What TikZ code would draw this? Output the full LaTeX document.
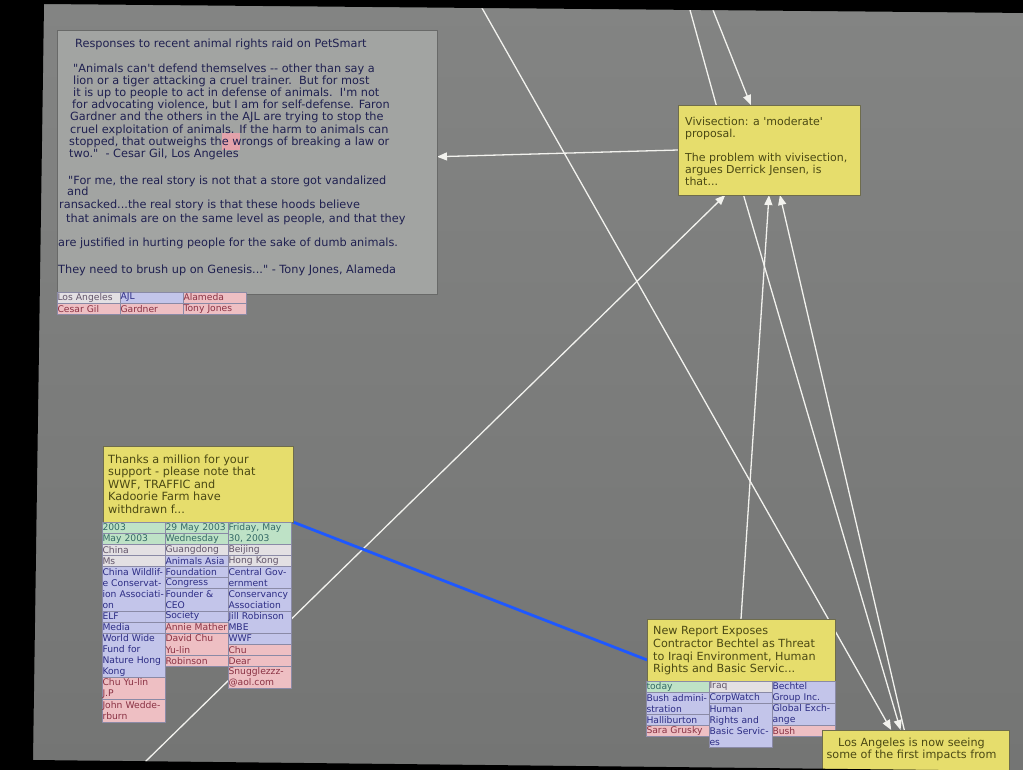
\documentclass[tikz,border=0pt]{standalone}
\usepackage{fontspec}
\setmainfont{DejaVu Sans}[Ligatures=TeXOff]
\usetikzlibrary{arrows.meta,calc,positioning}
\hyphenpenalty=10000
\exhyphenpenalty=10000

\definecolor{screentop}{HTML}{838483}
\definecolor{screenlow}{HTML}{747574}
\definecolor{panelgray}{HTML}{A2A4A2}
\definecolor{panelrule}{HTML}{686968}
\definecolor{panelink}{HTML}{1F2050}
\definecolor{notefill}{HTML}{E6DD6C}
\definecolor{noterule}{HTML}{6E6C4C}
\definecolor{noteink}{HTML}{4B4914}
\definecolor{caret}{HTML}{E3A2AA}
\definecolor{cellrule}{HTML}{8A8AA6}
\definecolor{fillg}{HTML}{BEE2C6}
\definecolor{inkg}{HTML}{356A66}
\definecolor{fillw}{HTML}{E3E0E3}
\definecolor{inkw}{HTML}{62556A}
\definecolor{fillb}{HTML}{C3C5EA}
\definecolor{inkb}{HTML}{2C2C84}
\definecolor{fillp}{HTML}{EEBFC3}
\definecolor{inkp}{HTML}{8A3244}
\definecolor{wire}{HTML}{F2F2EE}
\definecolor{hotblue}{HTML}{1E58FF}

\pgfdeclarelayer{bg}
\pgfdeclarelayer{edges}
\pgfsetlayers{bg,edges,main}

\tikzset{
  panel/.style={draw=panelrule, fill=panelgray, line width=.8pt, inner sep=0pt, outer sep=0pt, anchor=north west},
  note/.style={draw=noterule, fill=notefill, line width=.8pt, inner sep=0pt, outer sep=0pt, anchor=north west},
  blurb/.style={anchor=north west, inner sep=0pt, align=left, font=\fontsize{11}{12}\selectfont},
  cell/.style={draw=cellrule, line width=.5pt, fill=fill#1, text=ink#1, anchor=north west,
    inner xsep=.5pt, inner ysep=0pt, outer sep=0pt, text width=62pt, align=left,
    font=\fontsize{9.2}{11.1}\selectfont},
  link/.style={draw=wire, line width=1.3pt, -{Triangle[length=10pt,width=8pt]}},
  bluelink/.style={draw=hotblue, line width=2.8pt},
}

\newcommand\cellcol[3]{%
  \coordinate (#1-next) at (#2);
  \foreach \txt/\kind/\rows [count=\k] in {#3} {
    \node[cell=\kind, minimum height=\rows*11.1pt] (#1-\k) at (#1-next) {\txt};
    \coordinate (#1-next) at (#1-\k.south west);
  }}

\begin{document}
\begin{tikzpicture}[x=1pt, y=-1pt, line join=round, line cap=round]
  \useasboundingbox (0,0) rectangle (1023,769);
  \begin{pgfonlayer}{bg}
    \shade[top color=screentop, bottom color=screenlow] (0,0) rectangle (1023,769);
  \end{pgfonlayer}

  \node[panel, minimum width=380pt, minimum height=264pt] (resp) at (57,30) {};
  \fill[caret] (222,133) rectangle (240,150);
  \node[blurb, text=panelink, font=\fontsize{11.3}{12.15}\selectfont] (resp-text) at ($(resp.north west)+(1,8.4)$) {%
    \hspace*{17pt}Responses to recent animal rights raid on PetSmart\\[13pt]
    \hspace*{15pt}"Animals can't defend themselves -- other than say a\\
    \hspace*{15pt}lion or a tiger attacking a cruel trainer.\ \ But for most\\
    \hspace*{15pt}it is up to people to act in defense of animals.\ \ I'm not\\
    \hspace*{14pt}for advocating violence, but I am for self-defense. Faron\\
    \hspace*{12pt}Gardner and the others in the AJL are trying to stop the\\
    \hspace*{12pt}cruel exploitation of animals. If the harm to animals can\\
    \hspace*{11pt}stopped, that outweighs the wrongs of breaking a law or\\
    \hspace*{11pt}two."\ \ - Cesar Gil, Los Angeles\\[15pt]
    \hspace*{10pt}"For me, the real story is not that a store got vandalized\\[-1pt]
    \hspace*{9pt}and\\[1pt]
    \hspace*{1pt}ransacked...the real story is that these hoods believe\\[2pt]
    \hspace*{8pt}that animals are on the same level as people, and that they\\[11pt]
    are justified in hurting people for the sake of dumb animals.\\[15pt]
    They need to brush up on Genesis..." - Tony Jones, Alameda};
  \cellcol{resp-a}{$(resp.south west)+(0,-2)$}{Los Angeles/w/1, Cesar Gil/p/1}
  \cellcol{resp-b}{$(resp.south west)+(63,-2)$}{AJL/b/1, Gardner/p/1}
  \cellcol{resp-c}{$(resp.south west)+(126,-2)$}{Alameda/p/1, Tony Jones/p/1}

  \node[note, minimum width=182pt, minimum height=90pt] (vivi) at (678,105) {};
  \node[blurb, text=noteink] (vivi-text) at ($(vivi.north west)+(7,11.6)$) {%
    Vivisection: a 'moderate'\\ proposal.\\[12pt]
    The problem with vivisection,\\ argues Derrick Jensen, is\\ that...};

  \node[note, minimum width=190pt, minimum height=76pt] (thanks) at (103,446) {};
  \node[blurb, text=noteink, font=\fontsize{11.3}{12.5}\selectfont] (thanks-text) at ($(thanks.north west)+(5,8.4)$) {%
    Thanks a million for your\\ support - please note that\\ WWF, TRAFFIC and\\
    Kadoorie Farm have\\ withdrawn f...};
  \cellcol{thanks-a}{$(thanks.south west)+(-1,0)$}{2003/g/1, May 2003/g/1, China/w/1, Ms/w/1,
    China Wildlif-\\e Conservat-\\ion Associati-\\on/b/4, ELF/b/1, Media/b/1,
    World Wide\\Fund for\\Nature Hong\\Kong/b/4, Chu Yu-lin\\J.P/p/2, John Wedde-\\rburn/p/2}
  \cellcol{thanks-b}{$(thanks.south west)+(62,0)$}{29 May 2003/g/1, Wednesday/g/1, Guangdong/w/1,
    Animals Asia/b/1, Foundation/b/1, Congress/b/1, Founder \&\\CEO/b/2, Society/b/1,
    Annie Mather/p/1, David Chu\\Yu-lin/p/2, Robinson/p/1}
  \cellcol{thanks-c}{$(thanks.south west)+(125,0)$}{{Friday, May\\30, 2003}/g/2, Beijing/w/1,
    Hong Kong/w/1, Central Gov-\\ernment/b/2, Conservancy\\Association/b/2,
    Jill Robinson\\MBE/b/2, WWF/b/1, Chu/p/1, Dear/p/1, Snugglezzz-\\@aol.com/p/2}

  \node[note, minimum width=188pt, minimum height=62pt] (report) at (647,619) {};
  \node[blurb, text=noteink, font=\fontsize{11.2}{12.6}\selectfont] (report-text) at ($(report.north west)+(6,7.5)$) {%
    New Report Exposes\\ Contractor Bechtel as Threat\\
    to Iraqi Environment, Human\\ Rights and Basic Servic...};
  \cellcol{report-a}{$(report.south west)+(-1,0)$}{today/g/1, Bush admini-\\stration/b/2,
    Halliburton/b/1, Sara Grusky/p/1}
  \cellcol{report-b}{$(report.south west)+(62,0)$}{Iraq/w/1, CorpWatch/b/1,
    Human\\Rights and\\Basic Servic-\\es/b/4}
  \cellcol{report-c}{$(report.south west)+(125,0)$}{Bechtel\\Group Inc./b/2,
    Global Exch-\\ange/b/2, Bush/p/1}

  \node[note, minimum width=187pt, minimum height=45pt] (la) at (822,730) {};
  \node[blurb, anchor=north, align=center, text=noteink, font=\fontsize{11.2}{12.6}\selectfont] (la-text) at ($(la.north)+(-4,7.5)$) {%
    Los Angeles is now seeing\\ some of the first impacts from};

  \begin{pgfonlayer}{edges}
    \coordinate (top-a) at (482,8);
    \coordinate (top-b) at (690,10);
    \coordinate (top-c) at (713,10);
    \coordinate (low-a) at (145,762);
    \draw[link] (vivi.west) -- ($(resp.north east)!.48!(resp.south east)$);
    \draw[link] (top-a) -- ($(la.north west)!.37!(la.north east)$);
    \draw[link, -] (top-b) -- ($(vivi.north west)!.21!(vivi.north east)$);
    \draw[link] (top-c) -- ($(vivi.north west)!.4!(vivi.north east)$);
    \draw[link] (low-a) -- ($(vivi.south west)!.26!(vivi.south east)$);
    \draw[link] (report.north) -- (vivi.south);
    \draw[link] ($(vivi.south west)!.36!(vivi.south east)$) -- ($(la.north west)!.42!(la.north east)$);
    \draw[link] ($(la.north west)!.44!(la.north east)$) -- ($(vivi.south west)!.56!(vivi.south east)$);
    \draw[bluelink] (thanks.south east) -- ($(report.north west)!.66!(report.south west)$);
  \end{pgfonlayer}

  \fill[black, even odd rule] (-5,-5) rectangle (1030,780)
    (44,4) -- (1030,13) -- (1030,771) -- (33,760) -- cycle;
\end{tikzpicture}
\end{document}
